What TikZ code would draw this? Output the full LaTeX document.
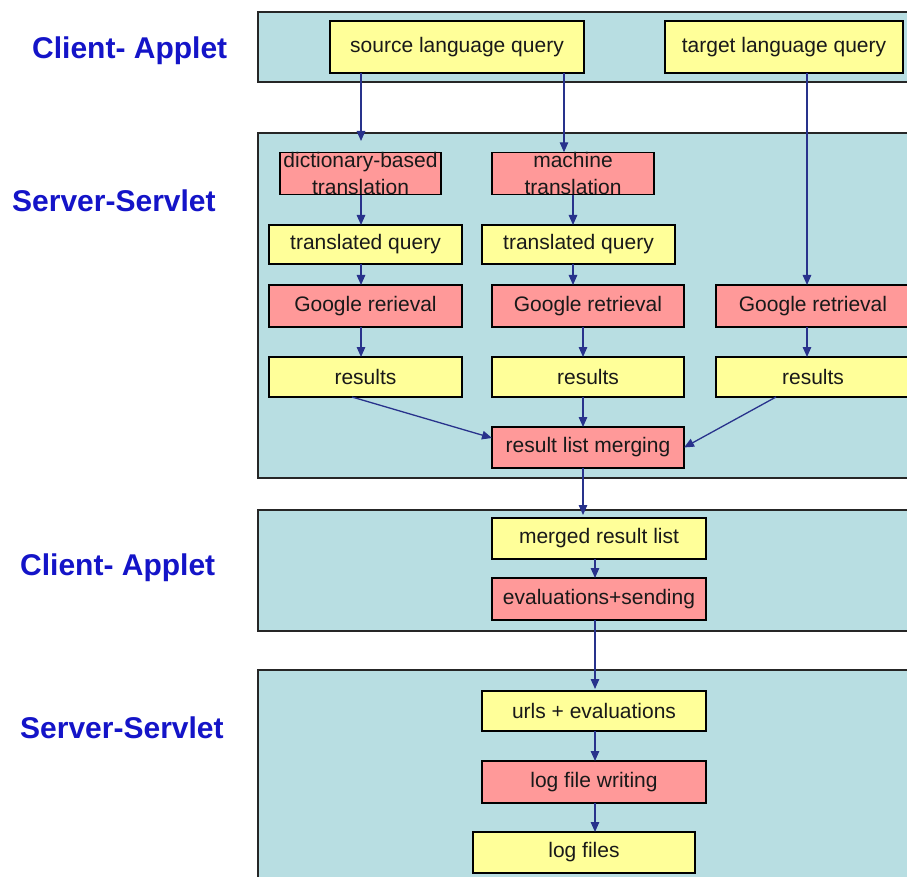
\documentclass[tikz,border=0pt]{standalone}
\usepackage{fontspec}
\setmainfont{Liberation Sans}
\usetikzlibrary{arrows.meta}
\definecolor{panelc}{RGB}{184,222,226}
\definecolor{yel}{RGB}{255,255,153}
\definecolor{pnk}{RGB}{255,153,153}
\definecolor{arrc}{RGB}{40,50,140}
\definecolor{lblc}{RGB}{20,20,200}
\begin{document}
\begin{tikzpicture}[x=1pt,y=-1pt,
  panel/.style={draw=black!85,line width=2pt,fill=panelc},
  boxbase/.style={draw=black,line width=1.5pt,inner sep=0pt,outer sep=0pt,
    font=\fontsize{21}{27}\selectfont,text=black!90,align=center},
  ybox/.style={boxbase,fill=yel},
  pbox/.style={boxbase,fill=pnk},
  arr/.style={draw=arrc,line width=1.3pt,-{Triangle[length=10pt,width=8.5pt]}},
  lbl/.style={anchor=base west,inner sep=0pt,text=lblc,font=\fontsize{30}{34}\selectfont\bfseries}]
\useasboundingbox (0,0) rectangle (907,877);
\fill[white] (0,0) rectangle (907,877);
% panels
\draw[panel] (258,12) rectangle (912,82);
\draw[panel] (258,133) rectangle (912,478);
\draw[panel] (258,510) rectangle (912,631);
\draw[panel] (258,670) rectangle (912,885);
% side labels
\node[lbl] (l1) at (32,59) {Client- Applet};
\node[lbl] (l2) at (12,212) {Server-Servlet};
\node[lbl] (l3) at (20,575) {Client- Applet};
\node[lbl] (l4) at (20,738) {Server-Servlet};
% client applet top
\node[ybox,minimum width=254pt,minimum height=52pt] (src) at (457,47) {source language query};
\node[ybox,minimum width=238pt,minimum height=52pt] (tgt) at (784,47) {target language query};
% server servlet
\node[pbox,minimum width=161pt,minimum height=41pt] (dict) at (360.5,173.5) {dictionary-based\\translation};
\node[pbox,minimum width=162pt,minimum height=41pt] (mach) at (573,173.5) {machine\\translation};
\node[ybox,minimum width=193pt,minimum height=39pt] (tq1) at (365.5,244.5) {translated query};
\node[ybox,minimum width=193pt,minimum height=39pt] (tq2) at (578.5,244.5) {translated query};
\node[pbox,minimum width=193pt,minimum height=42pt] (g1) at (365.5,306) {Google rerieval};
\node[pbox,minimum width=192pt,minimum height=42pt] (g2) at (588,306) {Google retrieval};
\node[pbox,minimum width=194pt,minimum height=42pt] (g3) at (813,306) {Google retrieval};
\node[ybox,minimum width=193pt,minimum height=40pt] (r1) at (365.5,377) {results};
\node[ybox,minimum width=192pt,minimum height=40pt] (r2) at (588,377) {results};
\node[ybox,minimum width=194pt,minimum height=40pt] (r3) at (813,377) {results};
\node[pbox,minimum width=192pt,minimum height=41pt] (merge) at (588,447.5) {result list merging};
% client applet bottom
\node[ybox,minimum width=214pt,minimum height=41pt] (mrl) at (599,538.5) {merged result list};
\node[pbox,minimum width=214pt,minimum height=42pt] (eval) at (599,599) {evaluations+sending};
% server servlet bottom
\node[ybox,minimum width=224pt,minimum height=40pt] (urls) at (594,711) {urls + evaluations};
\node[pbox,minimum width=224pt,minimum height=42pt] (lfw) at (594,782) {log file writing};
\node[ybox,minimum width=222pt,minimum height=41pt] (lf) at (584,852.5) {log files};
% helper coordinates
\coordinate (d1) at (361,141);
\coordinate (xa) at (361,0);
\coordinate (xm) at (564,0);
\coordinate (xt) at (807,0);
\coordinate (xb) at (573,0);
\coordinate (xc) at (583,0);
\coordinate (xl) at (352,0);
\coordinate (xr) at (776,0);
\coordinate (xe) at (595,0);
\coordinate (c2) at (583,515);
% arrows
\draw[arr] (src.south -| xa) -- (d1);
\draw[arr] (src.south -| xm) -- (mach.north -| xm);
\draw[arr] (tgt.south -| xt) -- (g3.north -| xt);
\draw[arr] (dict.south -| xa) -- (tq1.north -| xa);
\draw[arr] (tq1.south -| xa) -- (g1.north -| xa);
\draw[arr] (g1.south -| xa) -- (r1.north -| xa);
\draw[arr] (mach.south -| xb) -- (tq2.north -| xb);
\draw[arr] (tq2.south -| xb) -- (g2.north -| xb);
\draw[arr] (g2.south -| xc) -- (r2.north -| xc);
\draw[arr] (g3.south -| xt) -- (r3.north -| xt);
\draw[arr] (r1.south -| xl) -- ([yshift=9.5pt]merge.west);
\draw[arr] (r2.south -| xc) -- (merge.north -| xc);
\draw[arr] (r3.south -| xr) -- (merge.east);
\draw[arr] (merge.south -| xc) -- (c2);
\draw[arr] (mrl.south -| xe) -- (eval.north -| xe);
\draw[arr] (eval.south -| xe) -- ([yshift=2pt]urls.north -| xe);
\draw[arr] (urls.south -| xe) -- (lfw.north -| xe);
\draw[arr] (lfw.south -| xe) -- (lf.north -| xe);
\end{tikzpicture}
\end{document}
